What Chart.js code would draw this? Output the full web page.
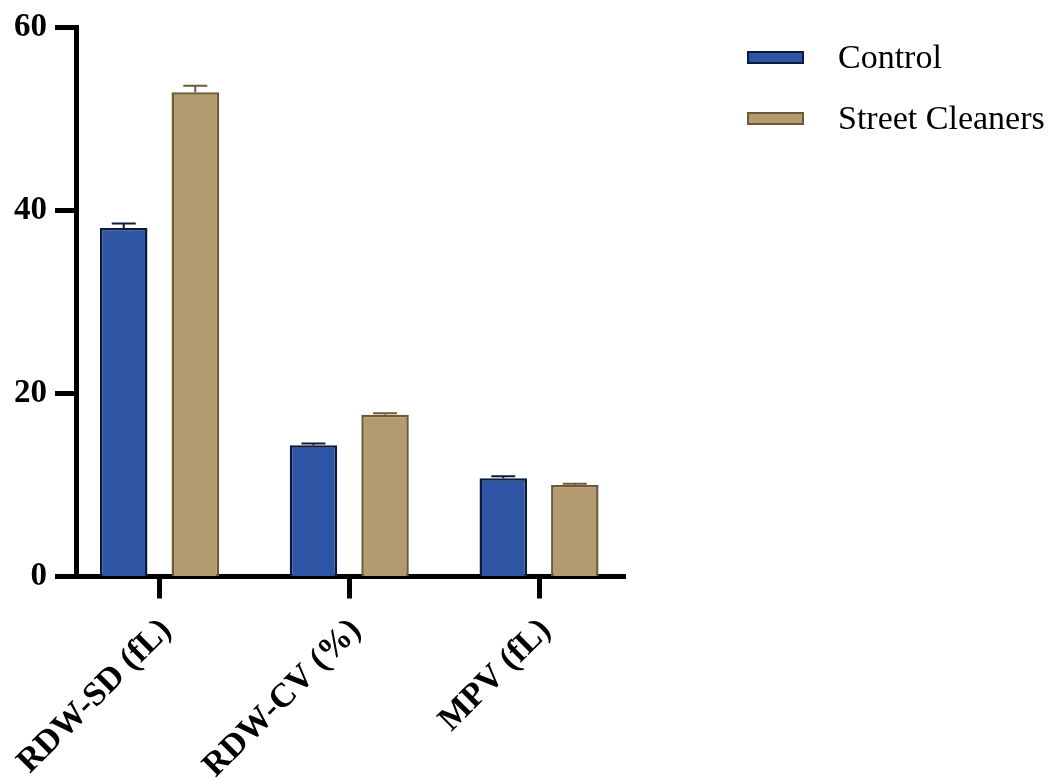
<!DOCTYPE html>
<html>
<head>
<meta charset="utf-8">
<title>RDW-SD, RDW-CV and MPV: Control vs Street Cleaners</title>
<script src="https://cdn.jsdelivr.net/npm/chart.js@4/dist/chart.umd.min.js"></script>
<style>
  html, body { margin: 0; padding: 0; background: #ffffff; }
  #wrap { position: relative; width: 1052px; height: 781px; }
  #chart { position: absolute; left: 0; top: 0; }
  .legend { position: absolute; left: 747px; top: 0; font-family: "Liberation Serif", "Times New Roman", serif; font-size: 34px; color: #000; }
  .legend .item { position: absolute; left: 0; width: 320px; height: 40px; display: flex; align-items: center; }
  .legend .swatch { width: 53px; height: 9px; box-sizing: content-box; border-width: 2px; border-style: solid; margin-right: 34px; flex: none; }
  .legend .label { white-space: nowrap; line-height: 40px; }
</style>
</head>
<body>
<div id="wrap">
  <canvas id="chart" width="1052" height="781"></canvas>
  <div class="legend" id="legend"></div>
</div>
<script>
// Haematology indices, mean with standard error
const categories = ['RDW-SD (fL)', 'RDW-CV (%)', 'MPV (fL)'];
const seriesNames = ['Control', 'Street Cleaners'];
const controlValues = [38.1, 14.35, 10.75];
const controlErrors = [0.5, 0.2, 0.2];
const cleanerValues = [52.95, 17.7, 10.0];
const cleanerErrors = [0.7, 0.15, 0.15];
const yTicks = [0, 20, 40, 60];

const fillColors = ['#2D55A3', '#B49B6F'];
const edgeColors = ['#0B1A3C', '#6F5A38'];

const toPoints = vals => vals.map((v, i) => ({ x: i, y: v }));

// Draws a vertical error whisker with a cap on top of every bar
const errorBars = {
  id: 'errorBars',
  afterDatasetsDraw(chart) {
    const { ctx } = chart;
    const yScale = chart.scales.y;
    chart.data.datasets.forEach((ds, di) => {
      const meta = chart.getDatasetMeta(di);
      meta.data.forEach((bar, i) => {
        const v = ds.data[i].y;
        const top = yScale.getPixelForValue(v + ds.errors[i]);
        ctx.save();
        ctx.strokeStyle = ds.borderColor;
        ctx.lineWidth = 2;
        ctx.beginPath();
        ctx.moveTo(bar.x, bar.y);
        ctx.lineTo(bar.x, top);
        ctx.moveTo(bar.x - 12, top);
        ctx.lineTo(bar.x + 12, top);
        ctx.stroke();
        ctx.restore();
      });
    });
  }
};

const serifFamily = '"Liberation Serif", "Times New Roman", serif';

const chart = new Chart(document.getElementById('chart'), {
  type: 'bar',
  data: {
    datasets: [
      {
        label: seriesNames[0],
        data: toPoints(controlValues),
        errors: controlErrors,
        backgroundColor: fillColors[0],
        borderColor: edgeColors[0],
        borderWidth: 2.5,
        borderSkipped: 'bottom'
      },
      {
        label: seriesNames[1],
        data: toPoints(cleanerValues),
        errors: cleanerErrors,
        backgroundColor: fillColors[1],
        borderColor: edgeColors[1],
        borderWidth: 2.5,
        borderSkipped: 'bottom'
      }
    ]
  },
  options: {
    responsive: false,
    animation: false,
    devicePixelRatio: 1,
    categoryPercentage: 0.754,
    barPercentage: 0.664,
    layout: { padding: { left: 0, right: 427, top: 27, bottom: 0 } },
    plugins: {
      legend: { display: false },
      tooltip: { enabled: false }
    },
    scales: {
      x: {
        type: 'linear',
        offset: false,
        min: -0.44,
        max: 2.453,
        afterBuildTicks(scale) {
          scale.ticks = categories.map((_, i) => ({ value: i }));
        },
        afterFit(scale) {
          scale.height = 204.5;
          // the rotated labels may overhang into the y-axis gutter
          scale.paddingLeft = 0;
          scale.paddingRight = 0;
        },
        grid: {
          offset: false,
          drawOnChartArea: false,
          drawTicks: true,
          tickLength: 22,
          tickWidth: 5,
          tickColor: '#000'
        },
        border: { display: true, width: 5, color: '#000' },
        ticks: {
          autoSkip: false,
          minRotation: 45,
          maxRotation: 45,
          padding: 20,
          color: '#000',
          showLabelBackdrop: true,
          backdropColor: 'rgba(0,0,0,0)',
          font: { family: serifFamily, size: 34, weight: 'bold', lineHeight: 0.56 },
          callback: v => categories[v]
        }
      },
      y: {
        min: 0,
        max: 60,
        afterBuildTicks(scale) {
          scale.ticks = yTicks.map(v => ({ value: v }));
        },
        afterFit(scale) { scale.width = 76; },
        grid: {
          drawOnChartArea: false,
          drawTicks: true,
          tickLength: 21,
          tickWidth: 5,
          tickColor: '#000'
        },
        border: { display: true, width: 5, color: '#000' },
        ticks: {
          padding: 8,
          color: '#000',
          font: { family: serifFamily, size: 33, weight: 'bold' }
        }
      }
    }
  },
  plugins: [errorBars]
});

// Legend built from the chart's datasets
const legend = document.getElementById('legend');
chart.data.datasets.forEach((ds, i) => {
  const item = document.createElement('div');
  item.className = 'item';
  item.style.top = (37 + i * 61) + 'px';
  const sw = document.createElement('span');
  sw.className = 'swatch';
  sw.style.background = ds.backgroundColor;
  sw.style.borderColor = ds.borderColor;
  const tx = document.createElement('span');
  tx.className = 'label';
  tx.textContent = ds.label;
  item.appendChild(sw);
  item.appendChild(tx);
  legend.appendChild(item);
});
</script>
</body>
</html>
